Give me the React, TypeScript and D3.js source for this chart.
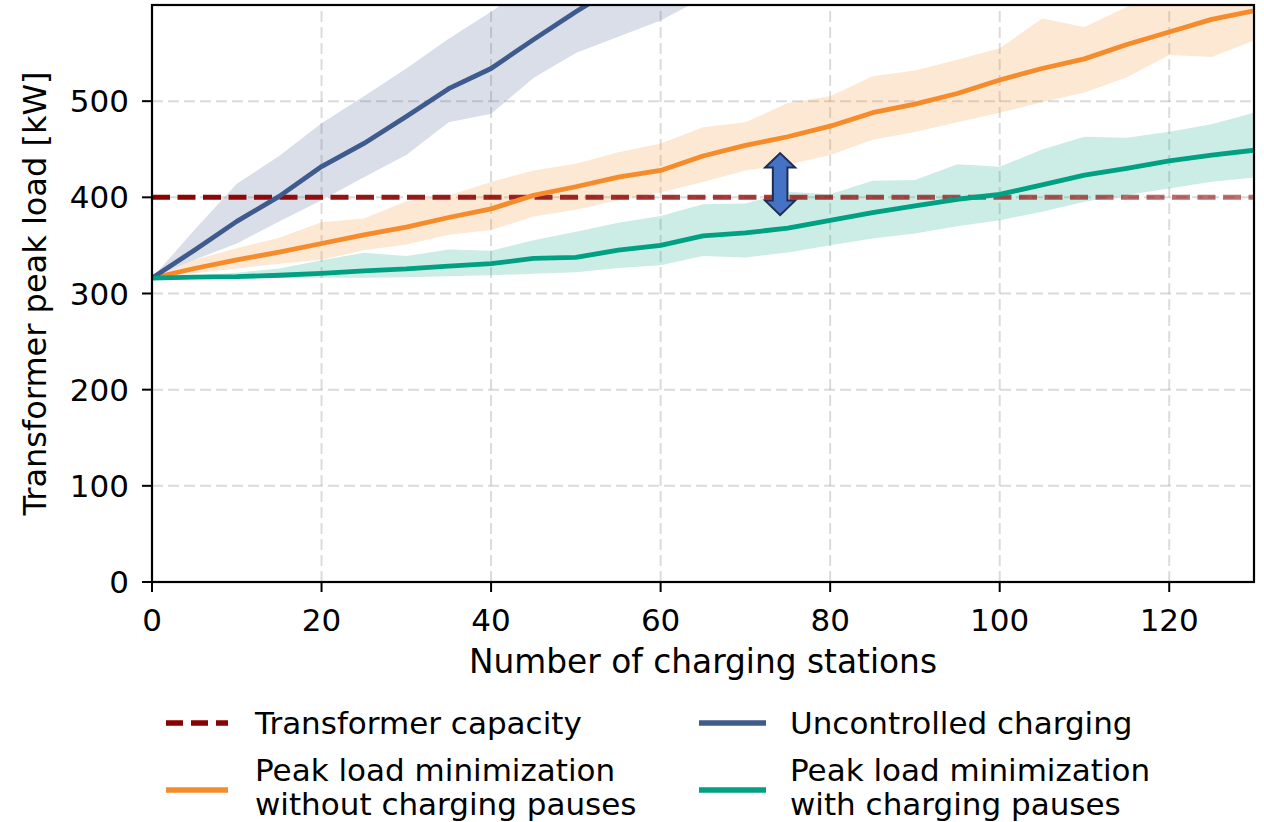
import React from 'react';
import * as d3 from 'd3';

// ---- Data ----
const stations = [0, 5, 10, 15, 20, 25, 30, 35, 40, 45, 50, 55, 60, 65, 70, 75, 80, 85, 90, 95, 100, 105, 110, 115, 120, 125, 130];

const uncontrolledMean = [316, 345, 375, 401, 432, 456, 484, 513, 534, 564, 593, 620, 648, 676];
const uncontrolledLow = [316, 335, 352, 375, 397, 421, 444, 478, 487, 524, 550, 567, 584, 607];
const uncontrolledHigh = [316, 366, 414, 443, 477, 505, 534, 565, 593, 622, 650, 678, 705, 735];

const noPauseMean = [316, 326, 335, 343, 352, 361, 369, 379, 388, 402, 411, 421, 428, 443, 454, 463, 474, 488, 497, 508, 522, 534, 544, 559, 572, 585, 594];
const noPauseLow = [316, 321, 326, 331, 335, 345, 351, 361, 366, 380, 387, 397, 405, 416, 428, 434, 444, 460, 468, 478, 488, 499, 509, 525, 548, 546, 563];
const noPauseHigh = [316, 335, 347, 358, 374, 378, 396, 402, 416, 428, 435, 447, 456, 473, 478, 498, 505, 526, 532, 543, 555, 586, 577, 598, 612, 618, 628];

const pauseMean = [316, 317, 317.5, 319, 321, 323.5, 325.5, 328.5, 331, 336.5, 337.5, 345, 350, 360, 363, 368, 376, 384, 391, 398, 403, 413, 423, 430, 438, 444, 449];
const pauseLow = [316, 315.5, 316, 316, 316.5, 316.5, 317, 318, 319, 320.5, 322, 326.5, 329.5, 339, 337.5, 342.7, 350.3, 357.3, 362.5, 370, 376.3, 385, 395.3, 402.3, 409.3, 416.1, 420.7];
const pauseHigh = [316, 319, 321.5, 326, 334.7, 342.3, 338.9, 345.8, 344.4, 355.5, 364.1, 373.5, 380.5, 392.9, 393.6, 405.7, 403.3, 417.2, 417.9, 434.5, 431.7, 449.8, 462.9, 461.9, 468.1, 476.1, 487.9];

const transformerCapacity = 400;

const xTicks = [0, 20, 40, 60, 80, 100, 120];
const yTicks = [0, 100, 200, 300, 400, 500];

// annotation arrow (station, kW range)
const arrowStation = 74.1;
const arrowRange = [381.5, 446];

const legendLabels = [
  ['Transformer capacity'],
  ['Peak load minimization', 'without charging pauses'],
  ['Uncontrolled charging'],
  ['Peak load minimization', 'with charging pauses'],
];

const C_RED = '#8b0000';
const C_BLUE = '#3f5a8d';
const C_ORANGE = '#f58b2a';
const C_GREEN = '#00a082';

export default function App() {
  const W = 1264;
  const H = 822;
  const x = d3.scaleLinear().domain([0, 130]).range([152, 1254]);
  const y = d3.scaleLinear().domain([0, 600]).range([582, 5]);

  const line = d3
    .line<[number, number]>()
    .x((d) => x(d[0]))
    .y((d) => y(d[1]));
  const area = d3
    .area<[number, number, number]>()
    .x((d) => x(d[0]))
    .y0((d) => y(d[1]))
    .y1((d) => y(d[2]));

  const pts = (vals: number[]) => vals.map((v, i) => [stations[i], v] as [number, number]);
  const band = (lo: number[], hi: number[]) =>
    lo.map((v, i) => [stations[i], v, hi[i]] as [number, number, number]);

  const font = 'DejaVu Sans';
  const fs = 31;
  const fsLabel = 32.8;

  const cx = x(arrowStation);
  const ty = y(arrowRange[1]);
  const by = y(arrowRange[0]);
  const hh = 15;
  const sh = 7.3;
  const hl = 14.5;
  const arrowPts = [
    [cx, ty],
    [cx + hh, ty + hl],
    [cx + sh, ty + hl],
    [cx + sh, by - hl],
    [cx + hh, by - hl],
    [cx, by],
    [cx - hh, by - hl],
    [cx - sh, by - hl],
    [cx - sh, ty + hl],
    [cx - hh, ty + hl],
  ]
    .map((p) => p.join(','))
    .join(' ');

  const legendCols = [
    { hx0: 166, hx1: 228, tx: 255 },
    { hx0: 699, hx1: 766, tx: 790 },
  ];
  const legendItems = [
    { col: 0, color: C_RED, dashed: true, lines: legendLabels[0], y0: 723, base: [734] },
    { col: 0, color: C_ORANGE, dashed: false, lines: legendLabels[1], y0: 790, base: [781, 815] },
    { col: 1, color: C_BLUE, dashed: false, lines: legendLabels[2], y0: 723, base: [734] },
    { col: 1, color: C_GREEN, dashed: false, lines: legendLabels[3], y0: 790, base: [781, 815] },
  ];

  return (
    <svg
      width={W}
      height={H}
      style={{ position: 'absolute', left: 0, top: 0, background: '#fff' }}
      fontFamily={font}
    >
      <defs>
        <clipPath id="plotClip">
          <rect x={152} y={5} width={1254 - 152} height={582 - 5} />
        </clipPath>
        <linearGradient id="capGrad" gradientUnits="userSpaceOnUse" x1={x(0)} x2={x(130)} y1={0} y2={0}>
          <stop offset="0" stopColor={C_RED} stopOpacity={1} />
          <stop offset="1" stopColor={C_RED} stopOpacity={0.55} />
        </linearGradient>
      </defs>
      <rect x={0} y={0} width={W} height={H} fill="#fff" />

      {/* grid */}
      <g stroke="#b0b0b0" strokeOpacity={0.45} strokeWidth={2} strokeDasharray="11,5">
        {xTicks.map((t) => (
          <line key={'gx' + t} x1={x(t)} x2={x(t)} y1={y(0)} y2={5} />
        ))}
        {yTicks.map((t) => (
          <line key={'gy' + t} x1={152} x2={1254} y1={y(t)} y2={y(t)} />
        ))}
      </g>

      <g clipPath="url(#plotClip)">
        <path d={area(band(uncontrolledLow, uncontrolledHigh)) || ''} fill={C_BLUE} fillOpacity={0.2} />
        <path d={area(band(noPauseLow, noPauseHigh)) || ''} fill={C_ORANGE} fillOpacity={0.2} />
        <path d={area(band(pauseLow, pauseHigh)) || ''} fill={C_GREEN} fillOpacity={0.2} />

        <line
          x1={x(0)}
          x2={x(130)}
          y1={y(transformerCapacity)}
          y2={y(transformerCapacity)}
          stroke="url(#capGrad)"
          strokeWidth={5}
          strokeDasharray="18,7.5"
        />

        <path d={line(pts(noPauseMean)) || ''} fill="none" stroke={C_ORANGE} strokeWidth={4.8} strokeLinejoin="round" />
        <path d={line(pts(uncontrolledMean)) || ''} fill="none" stroke={C_BLUE} strokeWidth={4.8} strokeLinejoin="round" />
        <path d={line(pts(pauseMean)) || ''} fill="none" stroke={C_GREEN} strokeWidth={4.8} strokeLinejoin="round" />

        <polygon points={arrowPts} fill="#4472c4" stroke="#1f2d4f" strokeWidth={2} strokeLinejoin="miter" />
      </g>

      {/* spines */}
      <rect x={152} y={5} width={1254 - 152} height={582 - 5} fill="none" stroke="#000" strokeWidth={2.2} />

      {/* x ticks */}
      <g>
        {xTicks.map((t) => (
          <g key={'xt' + t}>
            <line x1={x(t)} x2={x(t)} y1={582} y2={592} stroke="#000" strokeWidth={2} />
            <text x={x(t)} y={631} textAnchor="middle" fontSize={fs} fill="#000">
              {t}
            </text>
          </g>
        ))}
      </g>
      {/* y ticks */}
      <g>
        {yTicks.map((t) => (
          <g key={'yt' + t}>
            <line x1={142} x2={152} y1={y(t)} y2={y(t)} stroke="#000" strokeWidth={2} />
            <text x={129} y={y(t)} dy="0.36em" textAnchor="end" fontSize={fs} fill="#000">
              {t}
            </text>
          </g>
        ))}
      </g>

      <text x={703} y={673} textAnchor="middle" fontSize={fsLabel} fill="#000">
        Number of charging stations
      </text>
      <text
        transform={`translate(46, ${(5 + 582) / 2}) rotate(-90)`}
        textAnchor="middle"
        fontSize={32}
        fill="#000"
      >
        Transformer peak load [kW]
      </text>

      {/* legend */}
      {legendItems.map((it, i) => {
        const c = legendCols[it.col];
        return (
          <g key={'lg' + i}>
            <line
              x1={c.hx0}
              x2={c.hx1}
              y1={it.y0}
              y2={it.y0}
              stroke={it.color}
              strokeWidth={5.3}
              strokeDasharray={it.dashed ? '17,8' : undefined}
            />
            {it.lines.map((s, k) => (
              <text key={k} x={c.tx} y={it.base[k]} fontSize={fs} fill="#000">
                {s}
              </text>
            ))}
          </g>
        );
      })}
    </svg>
  );
}
